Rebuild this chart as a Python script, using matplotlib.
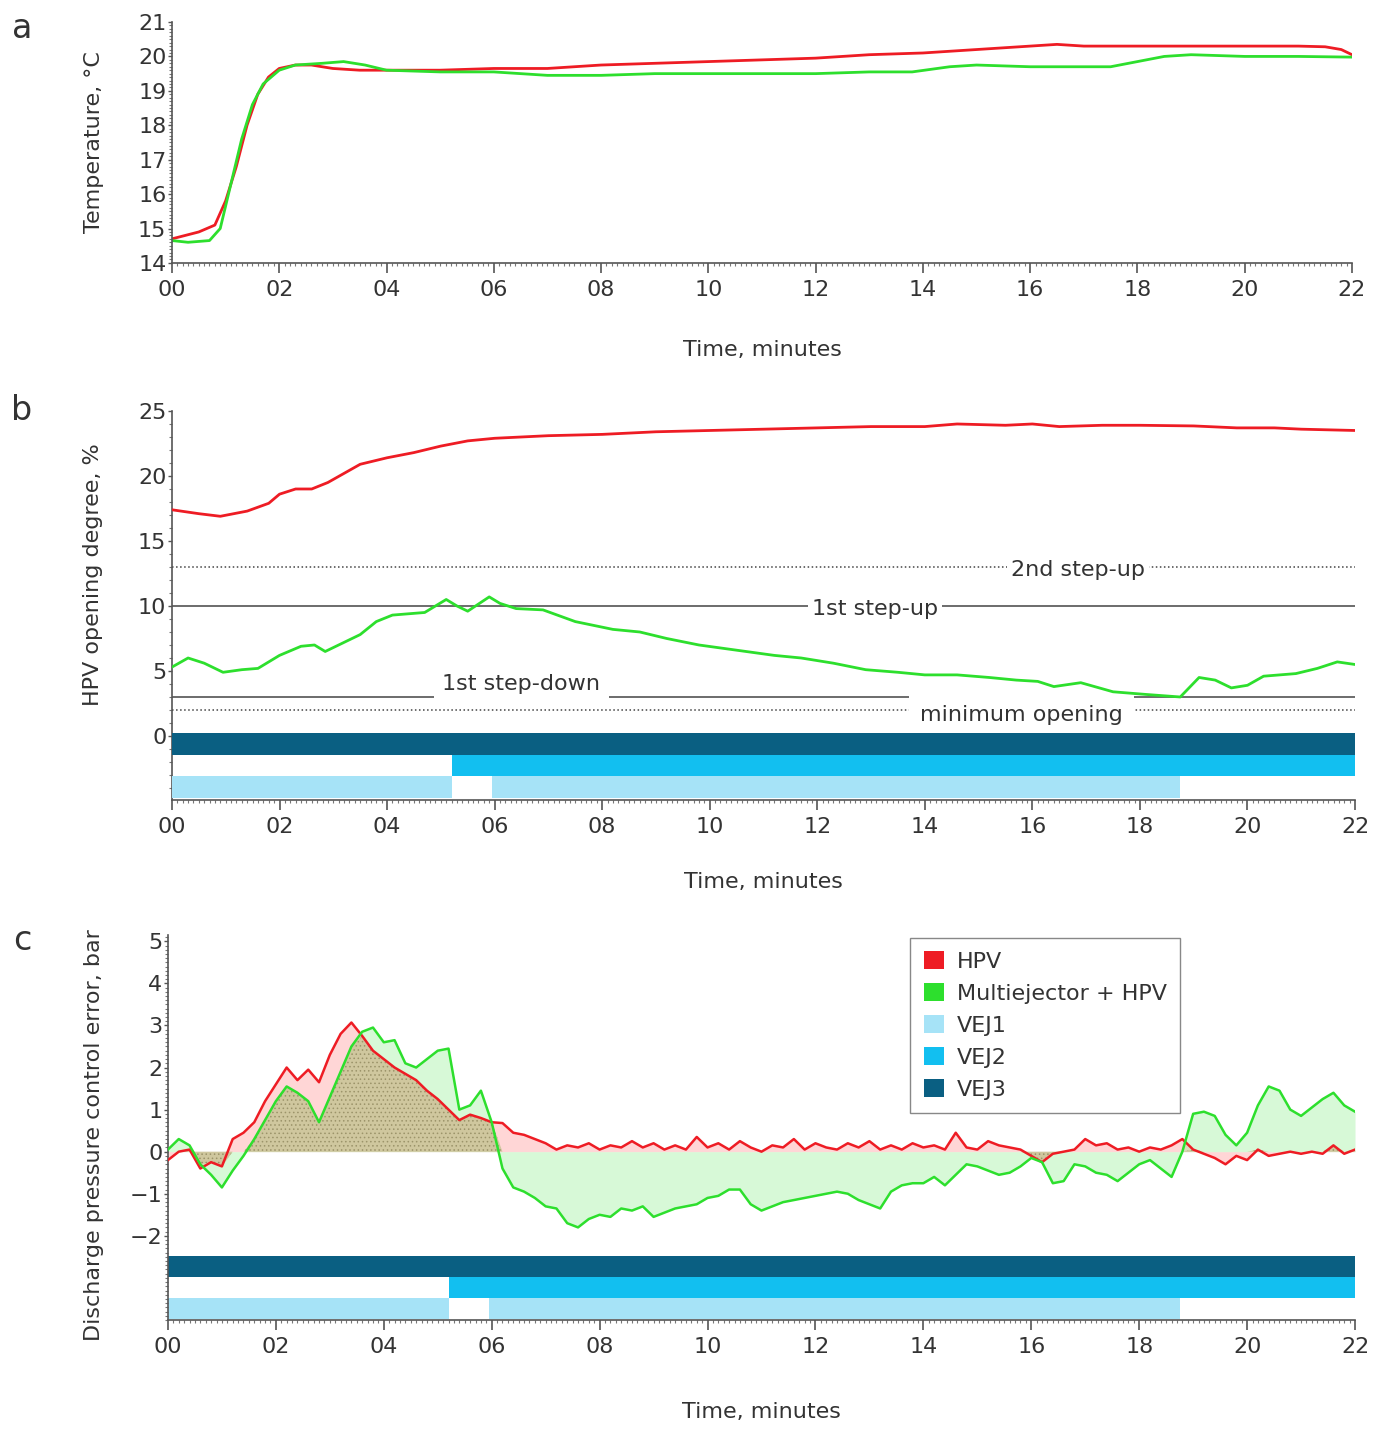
import numpy as np
import matplotlib
matplotlib.use("Agg")
import matplotlib.pyplot as plt
from matplotlib.patches import Patch
from matplotlib.ticker import MultipleLocator

RED = '#ee1c24'
GREEN = '#2ddf2d'
VEJ_COLORS = {'VEJ1': '#a6e3f7', 'VEJ2': '#12bff0', 'VEJ3': '#0a5f82'}
TXT = '#333333'
FS = 16

## a: temperature, degC
t_temp_hpv = [0, 0.5, 0.8, 1.0, 1.2, 1.4, 1.6, 1.8, 2.0, 2.3, 2.6, 3.0, 3.5, 4.0, 5.0, 6.0, 7.0,
              8.0, 9.0, 10.0, 11.0, 12.0, 13.0, 14.0, 15.0, 16.0, 16.5, 17.0, 18.0, 19.0, 20.0,
              21.0, 21.5, 21.8, 22.0]
temp_hpv = [14.7, 14.9, 15.1, 15.8, 16.8, 18.0, 18.9, 19.4, 19.65, 19.75, 19.75, 19.65, 19.6,
            19.6, 19.6, 19.65, 19.65, 19.75, 19.8, 19.85, 19.9, 19.95, 20.05, 20.1, 20.2, 20.3,
            20.35, 20.3, 20.3, 20.3, 20.3, 20.3, 20.28, 20.2, 20.05]
t_temp_mej = [0, 0.3, 0.7, 0.9, 1.1, 1.3, 1.5, 1.7, 2.0, 2.3, 2.8, 3.2, 3.6, 4.0, 5.0, 6.0, 7.0,
              8.0, 9.0, 10.0, 11.0, 12.0, 13.0, 13.8, 14.5, 15.0, 16.0, 17.0, 17.5, 18.0, 18.5,
              19.0, 20.0, 21.0, 22.0]
temp_mej = [14.65, 14.6, 14.65, 15.0, 16.3, 17.6, 18.6, 19.2, 19.6, 19.75, 19.8, 19.85, 19.75,
            19.6, 19.55, 19.55, 19.45, 19.45, 19.5, 19.5, 19.5, 19.5, 19.55, 19.55, 19.7, 19.75,
            19.7, 19.7, 19.7, 19.85, 20.0, 20.05, 20.0, 20.0, 19.98]

## b: HPV opening degree, %
t_open_hpv = [0, 0.5, 0.9, 1.4, 1.8, 2.0, 2.3, 2.6, 2.9, 3.2, 3.5, 4.0, 4.5, 5.0, 5.5, 6.0, 7.0,
              8.0, 9.0, 10.0, 11.0, 12.0, 13.0, 14.0, 14.6, 15.5, 16.0, 16.5, 17.3, 18.0, 19.0,
              19.8, 20.5, 21.0, 22.0]
open_hpv = [17.4, 17.1, 16.9, 17.3, 17.9, 18.6, 19.0, 19.0, 19.5, 20.2, 20.9, 21.4, 21.8, 22.3,
            22.7, 22.9, 23.1, 23.2, 23.4, 23.5, 23.6, 23.7, 23.8, 23.8, 24.0, 23.9, 24.0, 23.8,
            23.9, 23.9, 23.85, 23.7, 23.7, 23.6, 23.5]
t_open_mej = [0, 0.3, 0.6, 0.95, 1.3, 1.6, 2.0, 2.4, 2.65, 2.85, 3.15, 3.5, 3.8, 4.1, 4.7, 5.1,
              5.3, 5.5, 5.9, 6.1, 6.4, 6.9, 7.5, 8.2, 8.7, 9.2, 9.8, 10.5, 11.2, 11.7, 12.3, 12.9,
              13.5, 14.0, 14.6, 15.2, 15.7, 16.1, 16.4, 16.9, 17.5, 18.1, 18.75, 19.1, 19.4,
              19.7, 20.0, 20.3, 20.9, 21.3, 21.67, 22.0]
open_mej = [5.3, 6.0, 5.6, 4.9, 5.1, 5.2, 6.2, 6.9, 7.0, 6.5, 7.1, 7.8, 8.8, 9.3, 9.5, 10.5, 10.0,
            9.6, 10.7, 10.2, 9.8, 9.7, 8.8, 8.2, 8.0, 7.5, 7.0, 6.6, 6.2, 6.0, 5.6, 5.1, 4.9, 4.7,
            4.7, 4.5, 4.3, 4.2, 3.8, 4.1, 3.4, 3.2, 3.0, 4.5, 4.3, 3.7, 3.9, 4.6, 4.8, 5.2, 5.7,
            5.5]

# controller thresholds (%)
thresholds = {'2nd step-up': 13, '1st step-up': 10, '1st step-down': 3, 'minimum opening': 2}

## c: discharge pressure control error, bar (0.2 min sampling)
t_err = np.linspace(0, 22, 111)
err_hpv = [-0.2, 0.0, 0.05, -0.4, -0.25, -0.35, 0.3, 0.45, 0.7, 1.2, 1.6, 2.0, 1.7, 1.95, 1.65,
           2.3, 2.8, 3.07, 2.75, 2.4, 2.2, 2.0, 1.85, 1.7, 1.45, 1.25, 1.0, 0.75, 0.88, 0.8,
           0.7, 0.68, 0.45, 0.4, 0.3, 0.2, 0.05, 0.15, 0.1, 0.2, 0.05, 0.15, 0.1, 0.25, 0.1,
           0.2, 0.05, 0.15, 0.05, 0.35, 0.1, 0.2, 0.05, 0.25, 0.1, 0.0, 0.15, 0.1, 0.3, 0.05,
           0.2, 0.1, 0.05, 0.2, 0.1, 0.25, 0.05, 0.15, 0.05, 0.2, 0.1, 0.15, 0.05, 0.45, 0.1,
           0.05, 0.25, 0.15, 0.1, 0.05, -0.1, -0.25, -0.05, 0.0, 0.05, 0.3, 0.15, 0.2, 0.05,
           0.1, 0.0, 0.1, 0.05, 0.15, 0.3, 0.05, -0.05, -0.15, -0.3, -0.1, -0.2, 0.05, -0.1,
           -0.05, 0.0, -0.05, 0.0, -0.05, 0.15, -0.05, 0.05]
err_mej = [0.05, 0.3, 0.15, -0.3, -0.55, -0.85, -0.45, -0.1, 0.3, 0.75, 1.2, 1.55, 1.4, 1.2,
           0.7, 1.3, 1.9, 2.5, 2.85, 2.95, 2.6, 2.65, 2.1, 2.0, 2.2, 2.4, 2.45, 1.0, 1.1, 1.45,
           0.7, -0.4, -0.85, -0.95, -1.1, -1.3, -1.35, -1.7, -1.8, -1.6, -1.5, -1.55, -1.35,
           -1.4, -1.3, -1.55, -1.45, -1.35, -1.3, -1.25, -1.1, -1.05, -0.9, -0.9, -1.25, -1.4,
           -1.3, -1.2, -1.15, -1.1, -1.05, -1.0, -0.95, -1.0, -1.15, -1.25, -1.35, -0.95, -0.8,
           -0.75, -0.75, -0.6, -0.8, -0.55, -0.3, -0.35, -0.45, -0.55, -0.5, -0.35, -0.15,
           -0.25, -0.75, -0.7, -0.3, -0.35, -0.5, -0.55, -0.7, -0.5, -0.3, -0.2, -0.4, -0.6,
           0.0, 0.9, 0.95, 0.85, 0.4, 0.15, 0.45, 1.1, 1.55, 1.45, 1.0, 0.85, 1.05, 1.25, 1.4,
           1.1, 0.95]

# ejector on-periods, (start, duration) in minutes
vej_on = {
    'VEJ3': [(0, 22)],
    'VEJ2': [(5.2, 16.8)],
    'VEJ1': [(0, 5.2), (5.95, 12.8)],
}

plt.rcParams['font.family'] = 'DejaVu Sans'
plt.rcParams['font.size'] = FS
plt.rcParams['hatch.linewidth'] = 0.6


def style_axis(ax, y_minor):
    for side in ('top', 'right'):
        ax.spines[side].set_visible(False)
    for side in ('left', 'bottom'):
        ax.spines[side].set_color('#555555')
        ax.spines[side].set_linewidth(1.2)
    ax.set_xlim(0, 22)
    ax.set_xticks(np.arange(0, 23, 2))
    ax.set_xticklabels(['%02d' % v for v in range(0, 23, 2)])
    ax.xaxis.set_minor_locator(MultipleLocator(0.1))
    ax.yaxis.set_minor_locator(MultipleLocator(y_minor))
    ax.tick_params(which='major', axis='x', length=7, width=1.2, colors='#555555',
                   labelcolor=TXT, labelsize=FS, pad=5)
    ax.tick_params(which='major', axis='y', length=3, width=1, colors='#555555',
                   labelcolor=TXT, labelsize=FS, pad=1)
    ax.tick_params(which='minor', length=2, width=0.8, colors='#777777')
    ax.set_xlabel('Time, minutes', color=TXT, fontsize=FS)


def draw_ejectors(ax, rows, zorder=1):
    # rows: name -> (bottom, height) in data units
    for name, (y0, h) in rows.items():
        ax.broken_barh(vej_on[name], (y0, h), facecolors=VEJ_COLORS[name], zorder=zorder)


fig = plt.figure(figsize=(13.8, 14.29), dpi=100)
ax_a = fig.add_axes([0.1246, 0.8160, 0.8551, 0.1686])
ax_b = fig.add_axes([0.1246, 0.4402, 0.8573, 0.2722])
ax_c = fig.add_axes([0.1217, 0.0763, 0.8602, 0.2694])

# a
ax_a.plot(t_temp_hpv, temp_hpv, color=RED, lw=2)
ax_a.plot(t_temp_mej, temp_mej, color=GREEN, lw=2)
ax_a.set_ylim(14, 21)
ax_a.set_yticks(range(14, 22))
style_axis(ax_a, 0.1)
ax_a.set_ylabel('Temperature, °C', color=TXT, fontsize=FS)
ax_a.yaxis.set_label_coords(-0.058, 0.5)
ax_a.xaxis.set_label_coords(0.5, -0.32)

# b
draw_ejectors(ax_b, {'VEJ3': (-1.45, 1.65), 'VEJ2': (-3.1, 1.65), 'VEJ1': (-4.75, 1.65)},
              zorder=3.5)
for name, level in thresholds.items():
    ls = ':' if name in ('2nd step-up', 'minimum opening') else '-'
    ax_b.axhline(level, color='#444444', lw=1.1, ls=ls, zorder=2)
# (x, y, vertical alignment, box pad) for each threshold label
label_pos = {'2nd step-up': (16.85, 12.75, 'center', 3),
             '1st step-up': (13.07, 9.75, 'center', 3),
             '1st step-down': (6.5, 3.25, 'bottom', 6),
             'minimum opening': (15.8, 2.35, 'top', 8)}
for name, (x, y, va, pad) in label_pos.items():
    ax_b.text(x, y, name, ha='center', va=va, color=TXT, fontsize=FS, zorder=3,
              bbox=dict(facecolor='white', edgecolor='none', pad=pad))
ax_b.plot(t_open_hpv, open_hpv, color=RED, lw=2, zorder=4)
ax_b.plot(t_open_mej, open_mej, color=GREEN, lw=2, zorder=4)
ax_b.set_ylim(-4.92, 25)
ax_b.set_yticks([0, 5, 10, 15, 20, 25])
style_axis(ax_b, 1)
ax_b.set_ylabel('HPV opening degree, %', color=TXT, fontsize=FS)
ax_b.yaxis.set_label_coords(-0.058, 0.58)
ax_b.xaxis.set_label_coords(0.5, -0.185)

# c
r = np.array(err_hpv)
g = np.array(err_mej)
both_pos = (r > 0) & (g > 0)
both_neg = (r < 0) & (g < 0)
overlap = np.where(both_pos, np.minimum(r, g), np.where(both_neg, np.maximum(r, g), 0))
ax_c.fill_between(t_err, r, 0, color='#ff8c8c', alpha=0.35, lw=0, interpolate=True, zorder=1)
ax_c.fill_between(t_err, g, 0, color='#8eee8e', alpha=0.35, lw=0, interpolate=True, zorder=1)
ax_c.fill_between(t_err, overlap, 0, facecolor='#cfc79e', edgecolor='#9c946a', hatch='....',
                  lw=0, zorder=1.5)
draw_ejectors(ax_c, {'VEJ3': (-2.98, 0.5), 'VEJ2': (-3.48, 0.5), 'VEJ1': (-3.98, 0.5)})
ax_c.plot(t_err, r, color=RED, lw=1.8, zorder=3)
ax_c.plot(t_err, g, color=GREEN, lw=1.8, zorder=3)
ax_c.set_ylim(-4, 5.15)
ax_c.set_yticks(range(-2, 6))
style_axis(ax_c, 0.1)
ax_c.set_ylabel('Discharge pressure control error, bar', color=TXT, fontsize=FS)
ax_c.yaxis.set_label_coords(-0.054, 0.48)
ax_c.xaxis.set_label_coords(0.5, -0.213)

handles = [Patch(facecolor=RED), Patch(facecolor=GREEN)] + \
          [Patch(facecolor=VEJ_COLORS[k]) for k in ('VEJ1', 'VEJ2', 'VEJ3')]
labels = ['HPV', 'Multiejector + HPV', 'VEJ1', 'VEJ2', 'VEJ3']
leg = ax_c.legend(handles, labels, loc='upper left', bbox_to_anchor=(0.616, 1.022),
                  fancybox=False, edgecolor='#888888', framealpha=1, fontsize=FS,
                  handlelength=0.9, handleheight=0.9, handletextpad=0.6,
                  labelspacing=0.5, borderpad=0.6)
for txt in leg.get_texts():
    txt.set_color(TXT)

for letter, y in (('a', 0.980), ('b', 0.713), ('c', 0.342)):
    fig.text(0.016, y, letter, ha='center', va='center', fontsize=24, color=TXT)

fig.savefig('out.png', dpi=100)
